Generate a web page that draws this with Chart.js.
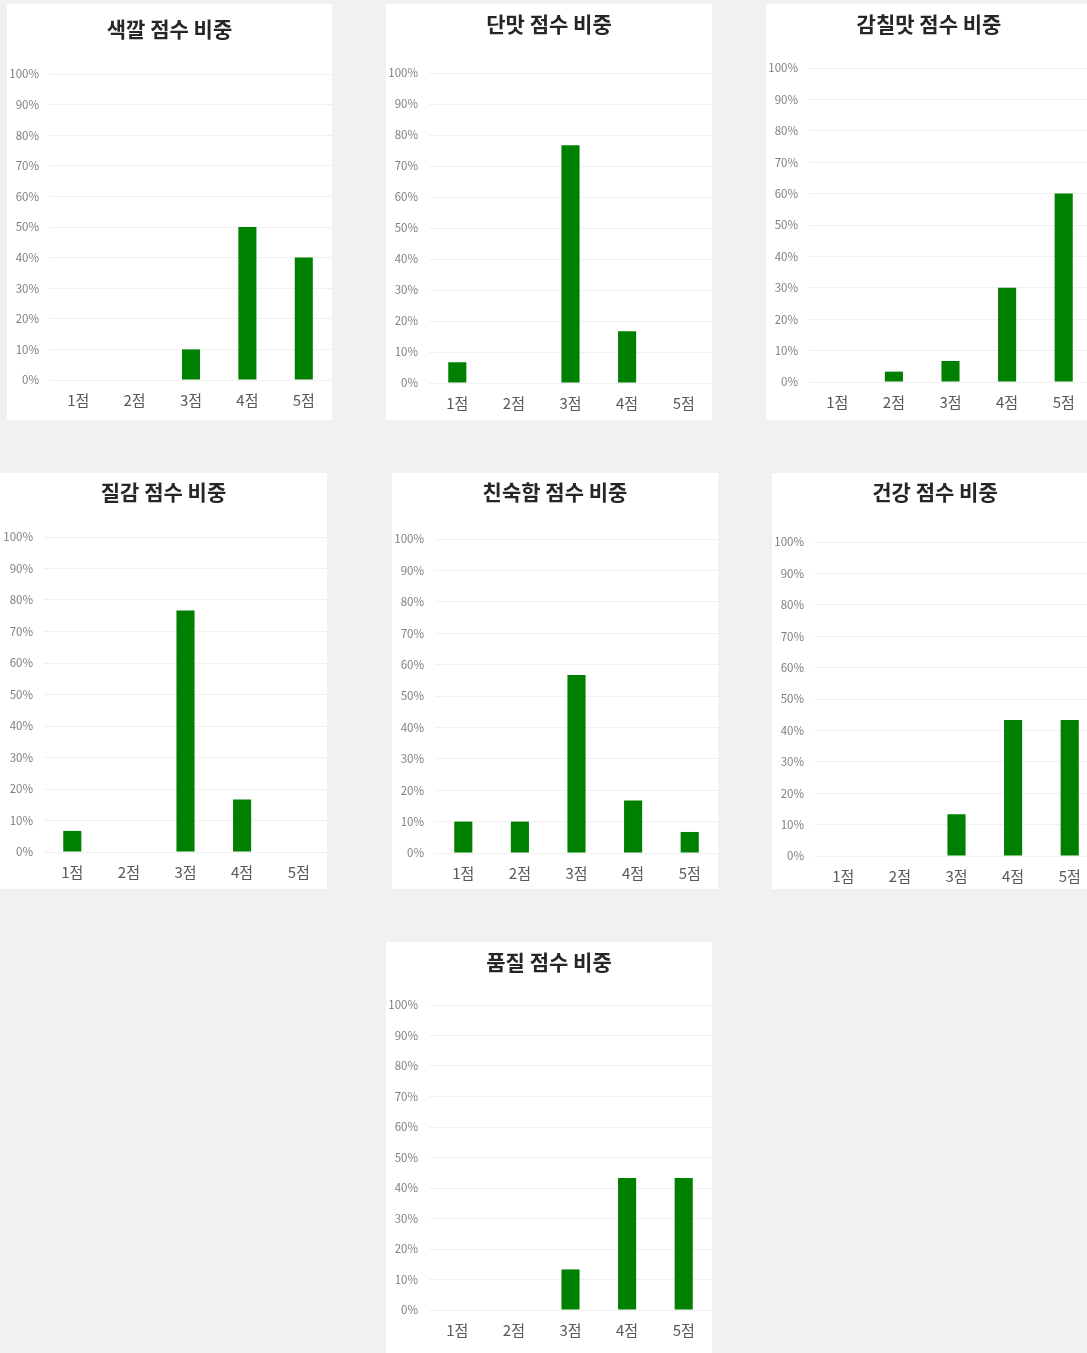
<!DOCTYPE html>
<html>
<head>
<meta charset="utf-8">
<script src="https://cdn.jsdelivr.net/npm/chart.js@4/dist/chart.umd.min.js"></script>
<style>
  html, body { margin: 0; padding: 0; background: #f1f1f1; overflow: hidden; }
  body { width: 1087px; height: 1353px; position: relative; }
  .panel { position: absolute; background: #fff; }
</style>
</head>
<body>
<script>
// 항목별 점수 비중 (%)
const categories = ["1점", "2점", "3점", "4점", "5점"];
const yTicks = [0, 10, 20, 30, 40, 50, 60, 70, 80, 90, 100];

const colorScores = [0, 0, 10, 50, 40]; // 색깔
const sweetScores = [6.7, 0, 76.7, 16.7, 0]; // 단맛
const umamiScores = [0, 3.3, 6.7, 30, 60]; // 감칠맛
const textureScores = [6.7, 0, 76.7, 16.7, 0]; // 질감
const familiarScores = [10, 10, 56.7, 16.7, 6.7]; // 친숙함
const healthScores = [0, 0, 13.3, 43.3, 43.3]; // 건강
const qualityScores = [0, 0, 13.3, 43.3, 43.3]; // 품질

const titles = [
  "색깔 점수 비중",
  "단맛 점수 비중",
  "감칠맛 점수 비중",
  "질감 점수 비중",
  "친숙함 점수 비중",
  "건강 점수 비중",
  "품질 점수 비중",
];
const series = [
  colorScores,
  sweetScores,
  umamiScores,
  textureScores,
  familiarScores,
  healthScores,
  qualityScores,
];

// 패널 위치: x, y, w, h, 제목 중심, 100% 위치, 0% 위치, 그래프 왼쪽
const panels = [
  { x: 7, y: 4, w: 325, h: 416, titleY: 25, top: 70, bottom: 376, left: 43 },
  { x: 386, y: 4, w: 326, h: 416, titleY: 20, top: 69, bottom: 379, left: 43 },
  { x: 766, y: 4, w: 326, h: 416, titleY: 20, top: 64, bottom: 378, left: 43 },
  { x: 0, y: 473, w: 327, h: 416, titleY: 19, top: 64, bottom: 379, left: 44 },
  { x: 392, y: 473, w: 326, h: 416, titleY: 19, top: 66, bottom: 380, left: 43 },
  { x: 772, y: 473, w: 326, h: 416, titleY: 19, top: 69, bottom: 383, left: 43 },
  { x: 386, y: 942, w: 326, h: 416, titleY: 20, top: 63, bottom: 368, left: 43 },
];

const fontFamily = "'Noto Sans CJK KR', 'Noto Sans', sans-serif";
const titleSize = 21;

panels.forEach((p, i) => {
  const div = document.createElement("div");
  div.className = "panel";
  div.style.left = p.x + "px";
  div.style.top = p.y + "px";
  div.style.width = p.w + "px";
  div.style.height = p.h + "px";
  const canvas = document.createElement("canvas");
  canvas.width = p.w;
  canvas.height = p.h;
  div.appendChild(canvas);
  document.body.appendChild(div);

  const lineH = titleSize * 1.2;
  const titleTop = p.titleY - lineH / 2;

  new Chart(canvas, {
    type: "bar",
    data: {
      labels: categories,
      datasets: [
        {
          data: series[i],
          backgroundColor: "#008000",
          barPercentage: 0.32,
          categoryPercentage: 1,
        },
      ],
    },
    options: {
      responsive: false,
      animation: false,
      layout: { padding: 0 },
      plugins: {
        legend: { display: false },
        tooltip: { enabled: false },
        title: {
          display: true,
          text: titles[i],
          color: "#262626",
          font: { family: fontFamily, size: titleSize, weight: "bold", lineHeight: 1.2 },
          padding: { top: titleTop, bottom: p.top - titleTop - lineH },
        },
      },
      scales: {
        x: {
          grid: { display: false },
          border: { display: false },
          ticks: {
            color: "#595959",
            font: { family: fontFamily, size: 15 },
            padding: 3,
            maxRotation: 0,
            autoSkip: false,
          },
          afterFit: (scale) => {
            scale.height = p.h - p.bottom;
          },
        },
        y: {
          min: 0,
          max: 100,
          afterBuildTicks: (scale) => {
            scale.ticks = yTicks.map((v) => ({ value: v }));
          },
          grid: { color: "#f0f0f0", drawTicks: false },
          border: { display: false },
          ticks: {
            color: "#7f7f7f",
            font: { family: fontFamily, size: 11.5 },
            padding: 11,
            callback: (v) => v + "%",
          },
          afterFit: (scale) => {
            scale.width = p.left;
          },
        },
      },
    },
  });
});
</script>
</body>
</html>
